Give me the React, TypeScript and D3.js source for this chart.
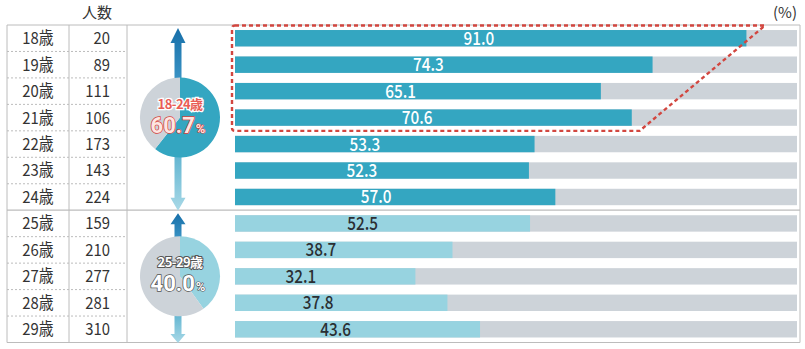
import React from "react";
import * as d3 from "d3";

const ages = ["18歳","19歳","20歳","21歳","22歳","23歳","24歳","25歳","26歳","27歳","28歳","29歳"];
const counts = [20, 89, 111, 106, 173, 143, 224, 159, 210, 277, 281, 310];
const rates = [91.0, 74.3, 65.1, 70.6, 53.3, 52.3, 57.0, 52.5, 38.7, 32.1, 37.8, 43.6];
const groups = ["18-24歳", "25-29歳"];
const groupShares = [60.7, 40.0];
const groupRows = [[0, 6], [7, 11]];
const highlightRows = [0, 3];
const highlightEdge = [94.3, 72]; // top-right and bottom-right extents in % units

const W = 805, H = 349;
const FONT = "'Noto Sans CJK JP', 'Noto Sans', sans-serif";
const NUMFONT = "Roboto, 'Noto Sans', sans-serif";
const DARK = "#34a6c1";
const LIGHT = "#97d3e0";
const GREY = "#cdd3d9";
const LINE = "#bcbcbc";

export default function App() {
  const top = 25, bottom = 342.5;
  const left = 7, right = 800;
  const rowScale = d3.scaleBand<string>().domain(ages).range([top, bottom]);
  const barScale = d3.scaleBand<string>().domain(ages).range([top, bottom]).paddingInner(0.38).paddingOuter(0.19);
  const x = d3.scaleLinear().domain([0, 100]).range([235, 797]);
  const labelX = d3.scaleLinear().domain([0, 100]).range([204, 506]);
  const rh = rowScale.bandwidth();
  const col1 = 69, col2 = 127;
  const pieX = 178;
  const pieR = 40;
  const pieGen = d3.pie<number>().sort(null).value(d => d);
  const arcGen = d3.arc<d3.PieArcDatum<number>>().innerRadius(0).outerRadius(pieR);

  const hlTop = rowScale(ages[highlightRows[0]])! + 0.5;
  const hlBot = rowScale(ages[highlightRows[1]])! + rh;
  const hlLeft = 232;
  const hlPath = `M${hlLeft + 3},${hlTop} L${x(highlightEdge[0])},${hlTop} L${x(highlightEdge[1])},${hlBot} L${hlLeft + 3},${hlBot} Q${hlLeft},${hlBot} ${hlLeft},${hlBot - 3} L${hlLeft},${hlTop + 3} Q${hlLeft},${hlTop} ${hlLeft + 3},${hlTop} Z`;

  const arrow = (tipY: number, baseY: number, headLen: number, id: string) => {
    const hw = 7.5, sw = 3.5;
    const dir = baseY > tipY ? 1 : -1;
    const hy = tipY + dir * headLen;
    const d = `M${pieX},${tipY} L${pieX + hw},${hy} L${pieX + sw},${hy} L${pieX + sw},${baseY} L${pieX - sw},${baseY} L${pieX - sw},${hy} L${pieX - hw},${hy} Z`;
    return <path d={d} fill={`url(#${id})`} />;
  };

  const narrow = (tx: number, ty: number, s: number) => `translate(${tx},${ty}) scale(${s},1)`;

  return (
    <svg width={W} height={H} style={{ position: "absolute", left: 0, top: 0 }} fontFamily={FONT}>
      <defs>
        <linearGradient id="upG" x1="0" y1="0" x2="0" y2="1">
          <stop offset="0" stopColor="#176fa9" />
          <stop offset="1" stopColor="#3a93c4" />
        </linearGradient>
        <linearGradient id="downG" x1="0" y1="0" x2="0" y2="1">
          <stop offset="0" stopColor="#62b5d1" />
          <stop offset="1" stopColor="#a9d9e7" />
        </linearGradient>
      </defs>
      <rect width={W} height={H} fill="#fff" />

      {/* headers */}
      <text x={97} y={18} fontSize={15} fill="#333" textAnchor="middle">人数</text>
      <text x={797} y={18} fontSize={15} fill="#333" textAnchor="end">(%)</text>

      {/* bars */}
      {ages.map((a, i) => {
        const y = barScale(a)!;
        const h = barScale.bandwidth();
        const dark = i <= groupRows[0][1];
        return (
          <g key={a}>
            <rect x={x(0)} y={y} width={x(100) - x(0)} height={h} fill={GREY} />
            <rect x={x(0)} y={y} width={x(rates[i]) - x(0)} height={h} fill={dark ? DARK : LIGHT} />
            <text transform={narrow(labelX(rates[i]), y + h / 2, 0.85)} dy="0.36em" fontSize={18} fontWeight={500}
              fill={dark ? "#fff" : "#2a2f33"} textAnchor="middle">{rates[i].toFixed(1)}</text>
          </g>
        );
      })}

      {/* table lines */}
      <line x1={left} x2={right} y1={top} y2={top} stroke={LINE} strokeWidth={1} />
      <line x1={left} x2={right} y1={bottom} y2={bottom} stroke={LINE} strokeWidth={1.2} />
      <line x1={left} x2={right} y1={rowScale(ages[7])!} y2={rowScale(ages[7])!} stroke={LINE} strokeWidth={1.2} />
      <line x1={left} x2={left} y1={top} y2={bottom} stroke={LINE} />
      <line x1={right} x2={right} y1={top} y2={bottom} stroke={LINE} />
      <line x1={col1} x2={col1} y1={top} y2={bottom} stroke={LINE} />
      <line x1={col2} x2={col2} y1={top} y2={bottom} stroke={LINE} />
      {ages.map((a, i) => i > 0 && i !== 7 ? (
        <line key={"l" + a} x1={left} x2={col2} y1={rowScale(a)!} y2={rowScale(a)!} stroke={LINE} strokeDasharray="2,2" />
      ) : null)}

      {/* table text */}
      {ages.map((a, i) => {
        const cy = rowScale(a)! + rh / 2;
        return (
          <g key={"t" + a}>
            <text transform={narrow(38, cy, 0.9)} dy="0.36em" fontSize={16.5} fill="#333" textAnchor="middle">{a}</text>
            <text transform={narrow(110, cy, 0.9)} dy="0.36em" fontSize={16.5} fill="#333" textAnchor="end">{counts[i]}</text>
          </g>
        );
      })}

      {/* highlight */}
      <path d={hlPath} fill="none" stroke="#d2463f" strokeWidth={2.4} strokeDasharray="4,3" />

      {/* pies and arrows */}
      {groups.map((g, gi) => {
        const y0 = rowScale(ages[groupRows[gi][0]])!;
        const y1 = rowScale(ages[groupRows[gi][1]])! + rh;
        const cy = (y0 + y1) / 2;
        const arcs = pieGen([groupShares[gi], 100 - groupShares[gi]]);
        const col = gi === 0 ? DARK : LIGHT;
        const headLen = gi === 0 ? 15 : 11;
        const share = groupShares[gi].toFixed(1);
        const labFill = gi === 0 ? "#e85d55" : "#ffffff";
        const labStroke = gi === 0 ? "#ffffff" : "#555";
        const bigFill = gi === 0 ? "#fde6e2" : "#ffffff";
        const bigStroke = gi === 0 ? "#d8433c" : "#555";
        return (
          <g key={g}>
            {arrow(y0 + 3, cy - pieR + 2, headLen, "upG")}
            {arrow(y1 + 0.5, cy + pieR - 2, headLen - 2, "downG")}
            <g transform={`translate(${pieX + 2},${cy})`}>
              {arcs.map((d, k) => (
                <path key={k} d={arcGen(d)!} fill={k === 0 ? col : GREY} />
              ))}
              <text x={0} y={-9} textAnchor="middle" fontWeight={700} paintOrder="stroke"
                fontSize={13} fill={labFill} stroke={labStroke}
                strokeWidth={gi === 0 ? 2.5 : 2} letterSpacing={-0.6}>{g}</text>
              <text x={-2} y={15} textAnchor="middle" fontWeight={700} paintOrder="stroke" fontFamily={NUMFONT}
                fill={bigFill} stroke={bigStroke}>
                <tspan fontSize={22} strokeWidth={1.5}>{share}</tspan>
                <tspan fontSize={13} dx={1} strokeWidth={1.2}>%</tspan>
              </text>
            </g>
          </g>
        );
      })}
    </svg>
  );
}
